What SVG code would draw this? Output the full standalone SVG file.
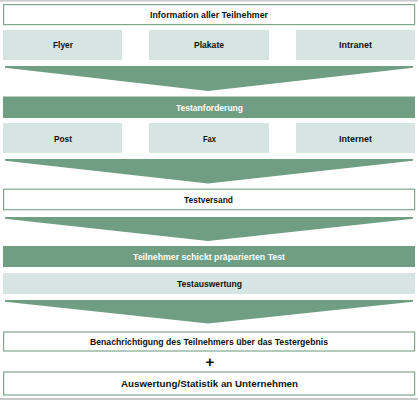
<svg xmlns="http://www.w3.org/2000/svg" width="418" height="400" viewBox="0 0 418 400">
<style>
.frame{fill:#ffffff;stroke:#7fa78e;stroke-width:1.2}
.light{fill:#d6e5e1}
.dark{fill:#709e83}
.arrow{fill:#709e83}
text{font-family:"Liberation Sans",Arial,sans-serif;font-weight:bold;font-size:9.5px;text-anchor:middle;fill:#111111}
.w{fill:#ffffff}
</style>
<rect x="0" y="0" width="418" height="400" fill="#ffffff"/>
<rect x="0" y="0" width="418" height="1.5" fill="#c9c9c9"/>
<rect x="0" y="398" width="418" height="2" fill="#c9c9c9"/>
<g id="info"><rect class="frame" x="3.6" y="4.6" width="411" height="20"/><text x="209" y="18.2" textLength="118" lengthAdjust="spacingAndGlyphs">Information aller Teilnehmer</text></g>
<g id="flyer"><rect class="light" x="3" y="30" width="119" height="30"/><text x="63" y="48.3" textLength="20" lengthAdjust="spacingAndGlyphs">Flyer</text></g>
<g id="plakate"><rect class="light" x="149" y="30" width="120" height="30"/><text x="209" y="48.3" textLength="30" lengthAdjust="spacingAndGlyphs">Plakate</text></g>
<g id="intranet"><rect class="light" x="296" y="30" width="119" height="30"/><text x="355.5" y="48.3" textLength="33" lengthAdjust="spacingAndGlyphs">Intranet</text></g>
<g id="testanforderung"><rect class="dark" x="3" y="96.5" width="412" height="21.5"/><text class="w" x="209.5" y="111" textLength="67" lengthAdjust="spacingAndGlyphs">Testanforderung</text></g>
<g id="post"><rect class="light" x="3" y="123" width="119" height="30"/><text x="63" y="141.5" textLength="18" lengthAdjust="spacingAndGlyphs">Post</text></g>
<g id="fax"><rect class="light" x="149" y="123" width="120" height="30"/><text x="209.5" y="141.5" textLength="13" lengthAdjust="spacingAndGlyphs">Fax</text></g>
<g id="internet"><rect class="light" x="296" y="123" width="119" height="30"/><text x="355.5" y="141.5" textLength="33" lengthAdjust="spacingAndGlyphs">Internet</text></g>
<g id="testversand"><rect class="frame" x="3.6" y="189.2" width="411" height="20.5"/><text x="208.5" y="203" textLength="49" lengthAdjust="spacingAndGlyphs">Testversand</text></g>
<g id="teilnehmer"><rect class="dark" x="3" y="246" width="412" height="21"/><text class="w" x="209" y="260.3" textLength="152" lengthAdjust="spacingAndGlyphs">Teilnehmer schickt präparierten Test</text></g>
<g id="testauswertung"><rect class="light" x="3" y="273" width="412" height="21"/><text x="209.5" y="287.3" textLength="65" lengthAdjust="spacingAndGlyphs">Testauswertung</text></g>
<g id="benachrichtigung"><rect class="frame" x="3.6" y="332" width="411" height="19"/><text x="209" y="345" textLength="238" lengthAdjust="spacingAndGlyphs">Benachrichtigung des Teilnehmers über das Testergebnis</text></g>
<g id="plus"><text x="210" y="367" style="font-size:15px">+</text></g>
<g id="auswertung"><rect class="frame" x="3.6" y="372" width="411" height="23"/><text x="209.5" y="387" textLength="177" lengthAdjust="spacingAndGlyphs">Auswertung/Statistik an Unternehmen</text></g>
<g id="connectors">
<polygon class="arrow" points="5,66 413,66 413,67.8 208,91 5,67.8"/>
<polygon class="arrow" points="5,159 413,159 413,160.8 208,183.5 5,160.8"/>
<polygon class="arrow" points="5,217 413,217 413,218.8 208,241 5,218.8"/>
<polygon class="arrow" points="5,300 413,300 413,301.8 208,323.5 5,301.8"/>
</g>
</svg>
